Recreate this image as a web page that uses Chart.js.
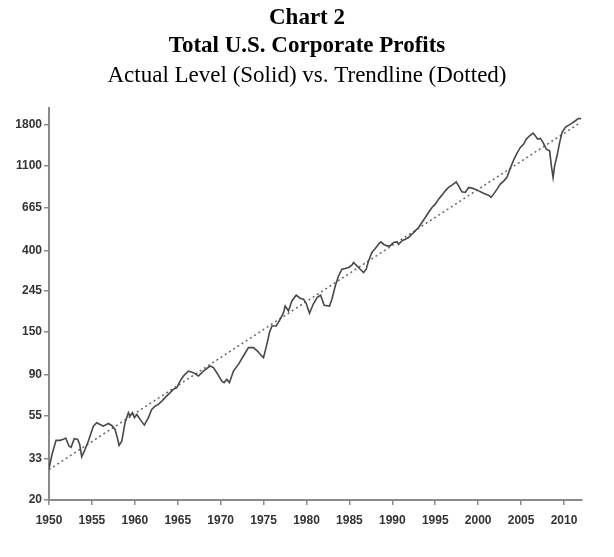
<!DOCTYPE html>
<html>
<head>
<meta charset="utf-8">
<script src="https://cdn.jsdelivr.net/npm/chart.js@4.4.1/dist/chart.umd.min.js"></script>
<style>
  body { margin: 0; background: #fff; }
  canvas { display: block; }
</style>
</head>
<body>
<canvas id="profitsChart" width="614" height="557"></canvas>
<script>
// Lucros corporativos (leitura do gráfico, escala log)
const profitYears = [
  1950.0, 1950.35, 1950.82, 1951.28, 1951.67, 1951.95, 1952.33, 1952.57, 1952.95, 1953.35,
  1953.58, 1953.81, 1954.20, 1954.58, 1955.17, 1955.56, 1955.95, 1956.33, 1956.91, 1957.31,
  1957.70, 1958.01, 1958.16, 1958.48, 1958.86, 1959.25, 1959.44, 1959.71, 1959.95, 1960.23,
  1960.61, 1961.11, 1961.58, 1961.97, 1962.36, 1962.74, 1963.14, 1963.52, 1963.91, 1964.49,
  1964.89, 1965.27, 1965.66, 1966.24, 1966.82, 1967.41, 1967.99, 1968.77, 1969.16, 1969.55,
  1970.14, 1970.40, 1970.72, 1971.02, 1971.49, 1972.07, 1972.65, 1973.24, 1973.82, 1974.29,
  1974.60, 1974.99, 1975.38, 1975.69, 1975.97, 1976.47, 1976.93, 1977.32, 1977.52, 1977.90,
  1978.30, 1978.80, 1979.26, 1979.65, 1979.96, 1980.35, 1980.78, 1981.25, 1981.65, 1982.06,
  1982.68, 1982.96, 1983.35, 1983.73, 1984.13, 1984.51, 1984.90, 1985.29, 1985.48, 1985.88,
  1986.26, 1986.65, 1986.96, 1987.23, 1987.62, 1988.01, 1988.39, 1988.67, 1988.98, 1989.37,
  1989.76, 1990.14, 1990.54, 1990.73, 1991.12, 1991.51, 1991.89, 1992.29, 1992.67, 1993.06,
  1993.45, 1993.84, 1994.22, 1994.62, 1995.00, 1995.39, 1995.78, 1996.17, 1996.55, 1996.95,
  1997.45, 1997.72, 1998.11, 1998.50, 1998.89, 1999.28, 1999.67, 2000.05, 2000.45, 2000.83,
  2001.22, 2001.50, 2001.80, 2002.20, 2002.58, 2002.97, 2003.37, 2003.75, 2004.13, 2004.53,
  2004.92, 2005.30, 2005.61, 2006.00, 2006.39, 2006.66, 2006.93, 2007.24, 2007.56, 2007.94,
  2008.33, 2008.53, 2008.73, 2008.91, 2009.19, 2009.50, 2009.78, 2010.16, 2010.55, 2010.94,
  2011.33, 2011.71, 2011.99
];

const profitValues = [
  29.1, 34.5, 40.9, 40.9, 41.4, 42.0, 38.2, 37.6, 41.7, 41.4,
  38.9, 33.6, 36.7, 40.5, 48.5, 50.5, 49.5, 48.5, 50.1, 48.9,
  46.6, 41.4, 38.5, 40.5, 50.5, 57.0, 54.7, 57.0, 53.7, 55.8,
  52.6, 49.1, 53.7, 59.3, 61.7, 63.0, 65.5, 68.3, 71.0, 75.4,
  77.0, 83.3, 88.5, 93.9, 92.1, 88.5, 93.9, 99.8, 97.9, 92.1,
  83.3, 81.7, 85.0, 81.7, 93.9, 101.8, 112.5, 124.4, 124.4, 119.4,
  114.8, 110.3, 129.4, 149.0, 161.3, 161.3, 174.8, 189.4, 205.0, 193.1,
  217.8, 233.3, 225.0, 222.3, 211.8, 187.9, 209.2, 227.6, 233.3, 206.8,
  205.0, 222.3, 260.8, 294.0, 318.8, 321.4, 325.3, 334.4, 345.4, 331.6,
  318.8, 306.2, 318.8, 352.2, 389.6, 408.6, 430.2, 442.4, 430.2, 421.6,
  421.6, 439.2, 442.4, 430.2, 447.8, 457.0, 466.4, 485.2, 504.8, 525.8,
  558.4, 593.0, 629.6, 668.6, 695.6, 738.6, 775.2, 816.0, 850.0, 873.8,
  909.2, 866.8, 806.4, 800.8, 850.0, 843.0, 833.0, 816.0, 800.8, 784.6,
  775.2, 754.2, 784.6, 833.0, 884.4, 917.0, 962.2, 1071.8, 1179.8, 1283.4,
  1374.6, 1430.2, 1518.6, 1580.0, 1632.0, 1580.0, 1518.6, 1531.2, 1459.4, 1346.6,
  1319.4, 1101.8, 958.6, 1101.8, 1242.6, 1459.4, 1645.6, 1747.4, 1796.4, 1840.0,
  1891.8, 1947.4, 1930.8
];

// Linha de tendência (pontilhada) - extremos
const trendYears = [1950.0, 2011.83];
const trendValues = [28.8, 1840];

// Eixos
const yTickValues = [20, 33, 55, 90, 150, 245, 400, 665, 1100, 1800];
const yTickLabels = ["20", "33", "55", "90", "150", "245", "400", "665", "1100", "1800"];
const xTickValues = [1950, 1955, 1960, 1965, 1970, 1975, 1980, 1985, 1990, 1995, 2000, 2005, 2010];

const axisColor = "#8a8a8a";
const tickFont = { family: "'Liberation Sans', Arial, sans-serif", size: 12, weight: "bold" };
const serif = "'Liberation Serif', 'Times New Roman', serif";

const ctx = document.getElementById("profitsChart").getContext("2d");
const profitsChart = new Chart(ctx, {
  type: "line",
  data: {
    datasets: [
      {
        label: "Actual",
        data: profitYears.map((x, i) => ({ x: x, y: profitValues[i] })),
        borderColor: "#484848",
        borderWidth: 1.6,
        pointRadius: 0,
        tension: 0,
        fill: false,
      },
      {
        label: "Trend",
        data: trendYears.map((x, i) => ({ x: x, y: trendValues[i] })),
        borderColor: "#666",
        borderWidth: 1.5,
        borderDash: [2, 3],
        pointRadius: 0,
        fill: false,
      },
    ],
  },
  options: {
    responsive: false,
    animation: false,
    layout: { padding: { left: 16, right: 16, top: 0, bottom: 0 } },
    plugins: {
      legend: { display: false },
      tooltip: { enabled: false },
      title: {
        display: true,
        text: ["Chart 2", "Total U.S. Corporate Profits"],
        color: "#000",
        font: { family: serif, size: 23, weight: "bold", lineHeight: 1.22 },
        padding: { top: 4, bottom: 0 },
      },
      subtitle: {
        display: true,
        text: "Actual Level (Solid) vs. Trendline (Dotted)",
        color: "#000",
        font: { family: serif, size: 23, weight: "normal", lineHeight: 1.22 },
        padding: { top: 2, bottom: 18 },
      },
    },
    scales: {
      x: {
        type: "linear",
        min: 1950,
        max: 2012.1,
        afterBuildTicks: (scale) => {
          scale.ticks = xTickValues.map((v) => ({ value: v }));
        },
        afterFit: (scale) => {
          scale.height = 57;
        },
        grid: { display: true, drawOnChartArea: false, color: axisColor, lineWidth: 1.5, tickLength: 5 },
        border: { color: axisColor, width: 2 },
        ticks: {
          color: "#333",
          font: tickFont,
          padding: 8,
          maxRotation: 0,
          autoSkip: false,
          callback: (value) => String(value),
        },
      },
      y: {
        type: "logarithmic",
        min: 20,
        max: 2200,
        afterBuildTicks: (scale) => {
          scale.ticks = yTickValues.map((v) => ({ value: v }));
        },
        afterFit: (scale) => {
          scale.width = 33;
        },
        grid: { display: true, drawOnChartArea: false, color: axisColor, lineWidth: 1.5, tickLength: 5 },
        border: { color: axisColor, width: 2 },
        ticks: {
          color: "#333",
          font: tickFont,
          padding: 2,
          autoSkip: false,
          callback: (value) => {
            const i = yTickValues.indexOf(value);
            return i >= 0 ? yTickLabels[i] : "";
          },
        },
      },
      // espaço vazio à direita
      yRight: {
        type: "linear",
        position: "right",
        display: true,
        afterFit: (scale) => {
          scale.width = 16;
        },
        grid: { display: false },
        border: { display: false },
        ticks: { display: false },
      },
    },
  },
});
</script>
</body>
</html>
